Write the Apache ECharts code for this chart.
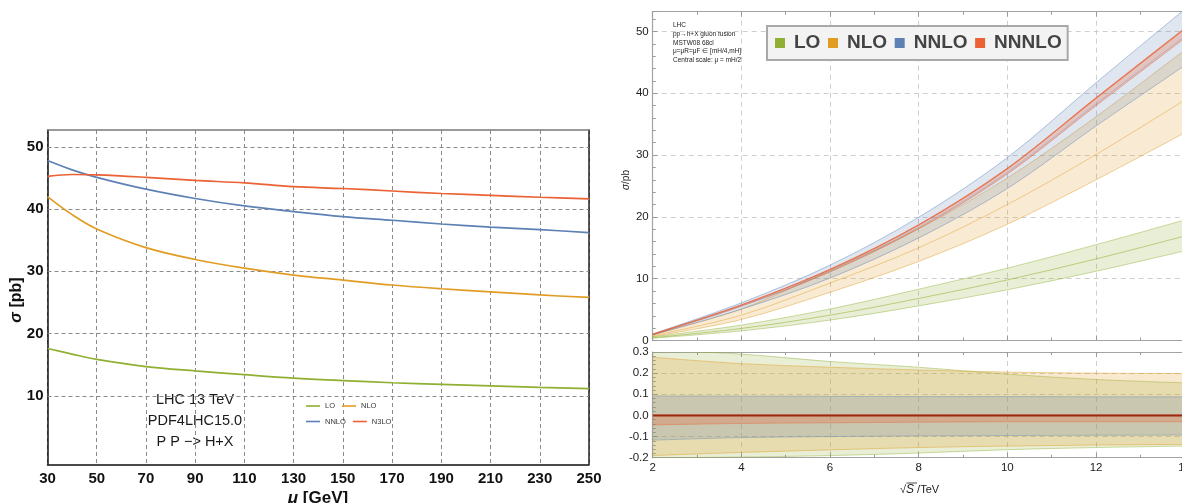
<!DOCTYPE html>
<html>
<head>
<meta charset="utf-8">
<script src="https://cdn.jsdelivr.net/npm/echarts@6/dist/echarts.min.js"></script>
<style>
  html, body { margin: 0; padding: 0; background: #ffffff; }
  #chart { width: 1182px; height: 503px; }
</style>
</head>
<body>
<div id="chart"></div>
<script>
// ---- Left panel: scale dependence of sigma(pp -> H+X) at 13 TeV ----
const muVals   = [30, 40, 50, 70, 90, 110, 130, 150, 170, 190, 210, 230, 250];
const sigLO    = [17.6, 16.7, 15.85, 14.7, 14.0, 13.4, 12.85, 12.45, 12.1, 11.85, 11.6, 11.35, 11.15];
const sigNLO   = [42.0, 39.1, 36.8, 33.8, 31.9, 30.5, 29.4, 28.6, 27.8, 27.2, 26.7, 26.2, 25.8];
const sigNNLO  = [47.8, 46.3, 45.1, 43.2, 41.7, 40.5, 39.6, 38.8, 38.2, 37.6, 37.1, 36.7, 36.2];
const sigN3LO  = [45.25, 45.55, 45.5, 45.1, 44.6, 44.2, 43.6, 43.3, 42.9, 42.5, 42.2, 41.9, 41.65];
const leftYTicks = [10, 20, 30, 40, 50];

// ---- Right panel: sigma vs sqrt(S) with scale bands ----
const sqrtS    = [2, 4, 6, 8, 10, 12, 14];
const loC      = [0.45, 1.95, 4.1, 6.8, 9.8, 13.2, 16.9];
const loUp     = [0.58, 2.5, 5.1, 8.3, 11.7, 15.5, 19.5];
const loDn     = [0.36, 1.56, 3.3, 5.6, 8.2, 11.2, 14.5];
const nloC     = [0.75, 4.1, 9.3, 15.0, 22.0, 30.1, 38.9];
const nloUp    = [0.96, 5.1, 11.4, 18.1, 26.3, 36.2, 47.0];
const nloDn    = [0.61, 3.4, 7.8, 12.8, 18.8, 26.0, 33.6];
const nnloC    = [0.97, 5.6, 11.2, 18.3, 27.2, 38.3, 49.2];
const nnloUp   = [1.06, 6.1, 12.2, 19.95, 29.6, 41.7, 53.6];
const nnloDn   = [0.88, 5.07, 10.1, 16.6, 24.6, 34.7, 44.5];
const n3loC    = [1.0, 5.75, 11.5, 18.7, 27.8, 39.2, 50.4];
const n3loUp   = [1.003, 5.77, 11.53, 18.75, 27.9, 39.3, 50.55];
const n3loDn   = [0.955, 5.53, 11.1, 18.1, 26.95, 38.0, 48.9];

// relative scale variation (ratio to own central value minus one)
const relLoUp   = [0.31, 0.29, 0.255, 0.228, 0.195, 0.17, 0.154];
const relLoDn   = [-0.20, -0.197, -0.19, -0.178, -0.162, -0.152, -0.145];
const relNloUp  = [0.275, 0.245, 0.228, 0.215, 0.205, 0.2, 0.198];
const relNloDn  = [-0.19, -0.175, -0.163, -0.152, -0.145, -0.14, -0.137];
const relNnloUp = [0.092, 0.091, 0.09, 0.089, 0.089, 0.088, 0.088];
const relNnloDn = [-0.117, -0.105, -0.1, -0.097, -0.095, -0.094, -0.093];
const relN3loUp = [0.003, 0.003, 0.003, 0.003, 0.003, 0.003, 0.003];
const relN3loDn = [-0.045, -0.038, -0.035, -0.032, -0.03, -0.03, -0.03];
const relCentre = [0, 0, 0, 0, 0, 0, 0];

const leftXTicks  = { min: 30, max: 250, step: 20 };
const rightXTicks = { min: 2, max: 14, step: 2 };

const COL = { lo: '#8FB032', nlo: '#E19C24', nnlo: '#5E81B5', n3lo: '#EB6235' };
const FONT = 'Liberation Sans, Arial, sans-serif';

const pairs = (xs, ys) => xs.map((x, i) => [x, ys[i]]);

function curve(name, ys, color) {
  return {
    name, type: 'line', xAxisIndex: 0, yAxisIndex: 0,
    data: pairs(muVals, ys), smooth: 0.35, showSymbol: false, silent: true,
    itemStyle: { color }, lineStyle: { color, width: 1.7 }, z: 5
  };
}

// cubic Catmull-Rom segments through pixel points (without the initial move)
function segs(pts) {
  let d = '';
  for (let i = 0; i < pts.length - 1; i++) {
    const p0 = pts[i - 1] || pts[i], p1 = pts[i], p2 = pts[i + 1], p3 = pts[i + 2] || pts[i + 1];
    const c1 = [p1[0] + (p2[0] - p0[0]) / 6, p1[1] + (p2[1] - p0[1]) / 6];
    const c2 = [p2[0] - (p3[0] - p1[0]) / 6, p2[1] - (p3[1] - p1[1]) / 6];
    d += ` C${c1[0]},${c1[1]} ${c2[0]},${c2[1]} ${p2[0]},${p2[1]}`;
  }
  return d;
}
const openPath = (pts) => `M${pts[0][0]},${pts[0][1]}` + segs(pts);

// shaded band (fill + faint edges) between lower and upper, positioned by the axes
function band(name, xi, yi, lower, upper, color, fillOp, edgeOp) {
  return {
    name, type: 'custom', xAxisIndex: xi, yAxisIndex: yi, silent: true, z: 2,
    itemStyle: { color },
    data: [[sqrtS[0], lower[0]]],
    renderItem: (params, api) => {
      const up = sqrtS.map((s, i) => api.coord([s, upper[i]]));
      const dn = sqrtS.map((s, i) => api.coord([s, lower[i]])).reverse();
      const area = openPath(up) + ` L${dn[0][0]},${dn[0][1]}` + segs(dn) + ' Z';
      const cs = params.coordSys;
      return {
        type: 'group',
        clipPath: { type: 'rect', shape: { x: cs.x, y: cs.y, width: cs.width, height: cs.height } },
        children: [
          { type: 'path', shape: { pathData: area }, style: { fill: color, opacity: fillOp } },
          { type: 'path', shape: { pathData: openPath(up) }, style: { fill: null, stroke: color, lineWidth: 1, opacity: edgeOp } },
          { type: 'path', shape: { pathData: openPath(dn) }, style: { fill: null, stroke: color, lineWidth: 1, opacity: edgeOp } }
        ]
      };
    }
  };
}

function centre(name, xi, yi, ys, color, width, op) {
  return {
    name, type: 'custom', xAxisIndex: xi, yAxisIndex: yi, silent: true, z: 4,
    itemStyle: { color },
    data: [[sqrtS[0], ys[0]]],
    renderItem: (params, api) => {
      const pts = sqrtS.map((s, i) => api.coord([s, ys[i]]));
      const cs = params.coordSys;
      return {
        type: 'group',
        clipPath: { type: 'rect', shape: { x: cs.x, y: cs.y, width: cs.width, height: cs.height } },
        children: [
          { type: 'path', shape: { pathData: openPath(pts) }, style: { fill: null, stroke: color, lineWidth: width, opacity: op } }
        ]
      };
    }
  };
}

const leftDash = { color: '#8a8a8a', width: 1, type: [4, 3] };
const rightDash = { color: '#cfcfcf', width: 1, type: [5, 4] };
const frameGrey = { color: '#a3a3a3', width: 1.2 };
const tickIn = { show: true, inside: true, length: 5, lineStyle: { color: '#9a9a9a' } };
const minorIn = (n) => ({ show: true, splitNumber: n, length: 3, lineStyle: { color: '#9a9a9a' } });

const option = {
  animation: false,
  backgroundColor: '#ffffff',
  textStyle: { fontFamily: FONT },
  grid: [
    { left: 47.5, top: 130, width: 541.5, height: 334.3, outerBoundsMode: 'none', containLabel: false },
    { left: 652.7, top: 11.7, width: 532, height: 328.8, outerBoundsMode: 'none', containLabel: false },
    { left: 652.7, top: 352, width: 532, height: 105.7, outerBoundsMode: 'none', containLabel: false }
  ],
  xAxis: [
    { gridIndex: 0, type: 'value', min: leftXTicks.min, max: leftXTicks.max, interval: leftXTicks.step,
      axisLine: { onZero: false, lineStyle: { color: '#111', width: 1.5 } }, axisTick: { show: false },
      axisLabel: { fontSize: 15, fontWeight: 'bold', color: '#111', margin: 7, fontFamily: FONT },
      splitLine: { show: true, lineStyle: leftDash } },
    { gridIndex: 0, type: 'value', position: 'top', min: leftXTicks.min, max: leftXTicks.max, interval: leftXTicks.step,
      axisLine: { onZero: false, lineStyle: { color: '#7a7a7a', width: 1.5 } }, axisTick: { show: false },
      axisLabel: { show: false }, splitLine: { show: false } },
    { gridIndex: 1, type: 'value', min: rightXTicks.min, max: rightXTicks.max, interval: rightXTicks.step,
      axisLine: { onZero: false, lineStyle: frameGrey }, axisTick: tickIn, minorTick: minorIn(2),
      axisLabel: { show: false }, splitLine: { show: true, lineStyle: rightDash } },
    { gridIndex: 1, type: 'value', position: 'top', min: rightXTicks.min, max: rightXTicks.max, interval: rightXTicks.step,
      axisLine: { onZero: false, lineStyle: frameGrey }, axisTick: tickIn, minorTick: minorIn(2),
      axisLabel: { show: false }, splitLine: { show: false } },
    { gridIndex: 2, type: 'value', min: rightXTicks.min, max: rightXTicks.max, interval: rightXTicks.step,
      axisLine: { onZero: false, lineStyle: frameGrey }, axisTick: tickIn, minorTick: minorIn(2),
      axisLabel: { fontSize: 11.5, color: '#222', margin: 4, fontFamily: FONT },
      splitLine: { show: true, lineStyle: rightDash } },
    { gridIndex: 2, type: 'value', position: 'top', min: rightXTicks.min, max: rightXTicks.max, interval: rightXTicks.step,
      axisLine: { onZero: false, lineStyle: frameGrey }, axisTick: tickIn, minorTick: minorIn(2),
      axisLabel: { show: false }, splitLine: { show: false } }
  ],
  yAxis: [
    { gridIndex: 0, type: 'value', min: -1, max: 52.7, splitNumber: 5,
      axisLine: { show: true, onZero: false, lineStyle: { color: '#111', width: 1.5 } }, axisTick: { show: false },
      axisLabel: { fontSize: 15, fontWeight: 'bold', color: '#111', margin: 4,
        fontFamily: FONT, customValues: leftYTicks,
        formatter: (v) => (leftYTicks.includes(v) ? String(v) : '') },
      splitLine: { show: false } },
    { gridIndex: 0, type: 'value', position: 'right', min: -1, max: 52.7,
      axisLine: { show: true, onZero: false, lineStyle: { color: '#222', width: 1.5 } }, axisTick: { show: false },
      axisLabel: { show: false }, splitLine: { show: false } },
    { gridIndex: 1, type: 'value', min: 0, max: 53.2, interval: 10,
      axisLine: { show: true, onZero: false, lineStyle: frameGrey }, axisTick: tickIn, minorTick: minorIn(5),
      axisLabel: { fontSize: 11.5, color: '#222', margin: 4, showMaxLabel: false, fontFamily: FONT },
      splitLine: { show: true, lineStyle: rightDash } },
    { gridIndex: 2, type: 'value', min: -0.2, max: 0.3, interval: 0.1,
      axisLine: { show: true, onZero: false, lineStyle: frameGrey }, axisTick: tickIn, minorTick: minorIn(5),
      axisLabel: { fontSize: 11.5, color: '#222', margin: 4, fontFamily: FONT,
        formatter: (v) => v.toFixed(1) },
      splitLine: { show: true, lineStyle: rightDash } }
  ],
  legend: [
    { data: ['LO', 'NLO'], left: 306, top: 402, padding: 0, itemGap: 7, icon: 'rect',
      itemWidth: 14, itemHeight: 1.6, selectedMode: false,
      textStyle: { fontSize: 7.5, color: '#333', width: 45, fontFamily: FONT } },
    { data: ['NNLO', 'N3LO'], left: 306, top: 417.5, padding: 0, itemGap: 7, icon: 'rect',
      itemWidth: 14, itemHeight: 1.6, selectedMode: false,
      textStyle: { fontSize: 7.5, color: '#333', width: 45, fontFamily: FONT } },
    { data: ['LO', 'NLO', 'NNLO', 'NNNLO'], left: 767, top: 26, padding: [7, 6, 7, 8],
      itemGap: 7.6, icon: 'rect', itemWidth: 10, itemHeight: 10, selectedMode: false,
      backgroundColor: '#f3f3f3', borderColor: '#a9a9a9', borderWidth: 2,
      textStyle: { fontSize: 19, fontWeight: 'bold', color: '#444', lineHeight: 20, padding: [0, 0, 0, 4], fontFamily: FONT } }
  ],
  graphic: [
    { type: 'text', x: 17, y: 300, rotation: Math.PI / 2,
      style: { text: '{i|σ} [pb]', fill: '#111', font: 'bold 16px ' + FONT, align: 'center', verticalAlign: 'middle',
        rich: { i: { fontStyle: 'italic', fontWeight: 'bold', fontSize: 16, fontFamily: FONT } } } },
    { type: 'text', x: 318, y: 498,
      style: { text: '{i|μ} [GeV]', fill: '#111', font: 'bold 17px ' + FONT, align: 'center', verticalAlign: 'middle',
        rich: { i: { fontStyle: 'italic', fontWeight: 'bold', fontSize: 17, fontFamily: FONT } } } },
    { type: 'text', x: 195, y: 421,
      style: { text: 'LHC 13 TeV\nPDF4LHC15.0\nP P −> H+X', fill: '#1a1a1a', font: '14.5px ' + FONT,
        align: 'center', verticalAlign: 'middle', lineHeight: 20.8 } },
    { type: 'text', x: 626, y: 180, rotation: Math.PI / 2,
      style: { text: '{i|σ}/pb', fill: '#222', font: '10px ' + FONT, align: 'center', verticalAlign: 'middle',
        rich: { i: { fontStyle: 'italic', fontSize: 10, fontFamily: FONT } } } },
    { type: 'text', x: 900, y: 490,
      style: { text: '√{s|S} /TeV', fill: '#222', font: '11px ' + FONT, align: 'left', verticalAlign: 'middle',
        rich: { s: { fontStyle: 'italic', fontSize: 12, fontFamily: FONT } } } },
    { type: 'line', shape: { x1: 906.5, y1: 483, x2: 917, y2: 483 }, style: { stroke: '#222', lineWidth: 0.8 } },
    { type: 'text', x: 673, y: 21,
      style: { text: 'LHC\npp→h+X gluon fusion\nMSTW08 68cl\nμ=μR=μF ∈ [mH/4,mH]\nCentral scale: μ = mH/2',
        fill: '#222', font: '6.5px ' + FONT, align: 'left', verticalAlign: 'top', lineHeight: 8.7 } }
  ],
  series: [
    // dashed horizontal grid of the left panel, placed by the left value axis
    { type: 'line', xAxisIndex: 0, yAxisIndex: 0, data: [], silent: true, z: 1,
      markLine: { silent: true, symbol: 'none', label: { show: false }, lineStyle: leftDash,
        data: leftYTicks.map((v) => ({ yAxis: v })) } },
    curve('LO', sigLO, COL.lo),
    curve('NLO', sigNLO, COL.nlo),
    curve('NNLO', sigNNLO, COL.nnlo),
    curve('N3LO', sigN3LO, COL.n3lo),

    band('LO band', 2, 2, loDn, loUp, COL.lo, 0.2, 0.45),
    band('NLO band', 2, 2, nloDn, nloUp, COL.nlo, 0.2, 0.45),
    band('NNLO band', 2, 2, nnloDn, nnloUp, COL.nnlo, 0.2, 0.45),
    band('NNNLO band', 2, 2, n3loDn, n3loUp, COL.n3lo, 0.25, 0.5),
    centre('LO', 2, 2, loC, COL.lo, 1, 0.55),
    centre('NLO', 2, 2, nloC, COL.nlo, 1, 0.45),
    centre('NNLO', 2, 2, nnloC, COL.nnlo, 1, 0.3),
    centre('NNNLO', 2, 2, n3loC, COL.n3lo, 1.2, 0.75),

    band('LO ratio', 4, 3, relLoDn, relLoUp, COL.lo, 0.2, 0.45),
    band('NLO ratio', 4, 3, relNloDn, relNloUp, COL.nlo, 0.22, 0.45),
    band('NNLO ratio', 4, 3, relNnloDn, relNnloUp, COL.nnlo, 0.22, 0.4),
    band('NNNLO ratio', 4, 3, relN3loDn, relN3loUp, COL.n3lo, 0.28, 0.4),
    centre('NNNLO ratio centre', 4, 3, relCentre, '#9a2a12', 2, 1)
  ]
};

const chart = echarts.init(document.getElementById('chart'), null, { renderer: 'canvas' });
chart.setOption(option);
</script>
</body>
</html>
